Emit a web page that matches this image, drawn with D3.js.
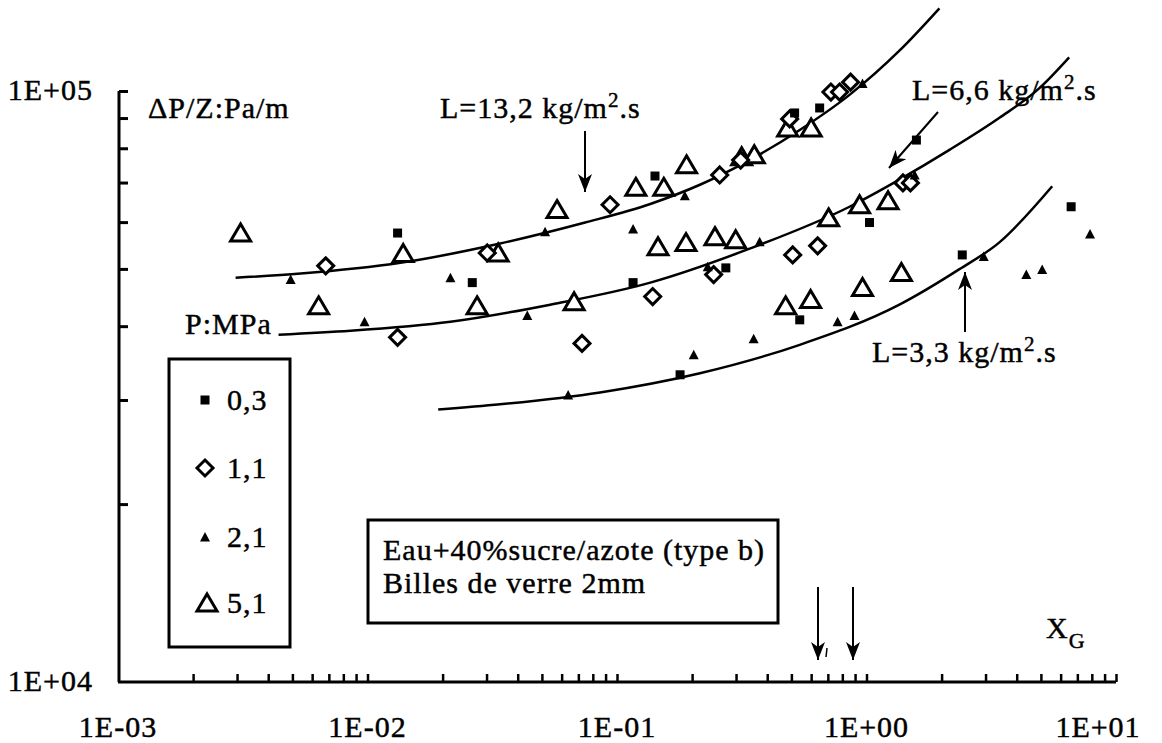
<!DOCTYPE html>
<html><head><meta charset="utf-8">
<script src="https://cdn.jsdelivr.net/npm/d3@7"></script>
<style>
body{margin:0;background:#fff}
svg{display:block}
text{font-family:"Times New Roman","Liberation Serif",Times,serif;fill:#000;stroke:#000;stroke-width:0.45px;letter-spacing:1px}
</style>
</head><body>
<svg id="chart" width="1162" height="743"></svg>
<script>
// ---------- data ----------
const xTickValues = [1e-3, 1e-2, 1e-1, 1, 10];
const xTickLabels = ["1E-03", "1E-02", "1E-01", "1E+00", "1E+01"];
const yTickValues = [1e4, 1e5];
const yTickLabels = ["1E+04", "1E+05"];
const legendLabels = ["0,3", "1,1", "2,1", "5,1"];

// P = 0,3 MPa (filled squares)
const p03 = [[0.0132,5.75e4],[0.0263,4.74e4],[0.116,4.74e4],[0.142,7.18e4],[0.179,3.31e4],
  [0.273,5.02e4],[0.54,4.1e4],[0.515,9.18e4],[0.649,9.36e4],[1.028,5.99e4],[1.585,8.26e4],
  [2.42,5.28e4],[6.61,6.37e4]];
// P = 1,1 MPa (open diamonds)
const p11 = [[0.0068,5.06e4],[0.0132,3.83e4],[0.0302,5.32e4],[0.0724,3.74e4],[0.0938,6.42e4],
  [0.139,4.49e4],[0.244,4.89e4],[0.258,7.21e4],[0.313,7.64e4],[0.506,5.28e4],[0.637,5.47e4],
  [0.492,8.97e4],[0.72,9.96e4],[0.78,9.96e4],[0.863,1.035e5],[1.4,6.99e4],[1.5,6.99e4]];
// P = 2,1 MPa (small filled triangles)
const p21 = [[0.00492,4.8e4],[0.00973,4.07e4],[0.0215,4.83e4],[0.0437,4.17e4],[0.0515,5.78e4],
  [0.0637,3.06e4],[0.116,5.84e4],[0.187,6.65e4],[0.203,3.58e4],[0.231,5.04e4],[0.353,3.81e4],
  [0.373,5.56e4],[0.766,4.07e4],[0.895,4.17e4],[1.56,7.21e4],[2.95,5.25e4],[4.37,4.89e4],
  [5.06,4.99e4],[7.87,5.73e4],[0.964,1.03e5]];
// P = 5,1 MPa (open triangles)
const p51 = [[0.0031,5.75e4],[0.00637,4.33e4],[0.0139,5.31e4],[0.0275,4.33e4],[0.0334,5.32e4],
  [0.0575,6.3e4],[0.0673,4.4e4],[0.119,6.87e4],[0.154,6.87e4],[0.146,5.45e4],[0.19,7.5e4],
  [0.189,5.54e4],[0.247,5.67e4],[0.316,7.74e4],[0.355,7.8e4],[0.299,5.6e4],[0.474,4.33e4],
  [0.597,4.44e4],[0.483,8.66e4],[0.6,8.66e4],[0.705,6.1e4],[0.938,6.42e4],[0.964,4.65e4],
  [1.22,6.52e4],[1.38,4.93e4]];

// fitted curves for each mass flux L
const curveL132 = [[0.00296,4.83e4],[0.0054,4.91e4],[0.01355,5.12e4],[0.034,5.52e4],[0.0745,5.99e4],
  [0.136,6.44e4],[0.215,6.94e4],[0.34,7.64e4],[0.54,8.59e4],[0.855,9.85e4],[1.355,1.17e5],[1.96,1.38e5]];
const curveL66 = [[0.0044,3.87e4],[0.00855,3.93e4],[0.0215,4.07e4],[0.054,4.35e4],[0.136,4.74e4],
  [0.34,5.41e4],[0.855,6.37e4],[1.355,7.08e4],[2.15,7.95e4],[3.4,9.0e4],[4.92,1.01e5],[6.49,1.14e5]];
const curveL33 = [[0.0192,2.89e4],[0.034,2.95e4],[0.0855,3.09e4],[0.215,3.33e4],[0.54,3.72e4],
  [1.355,4.35e4],[2.35,4.99e4],[3.4,5.54e4],[5.55,6.9e4]];

// ---------- layout ----------
const svg = d3.select("#chart");
svg.append("rect").attr("width",1162).attr("height",743).attr("fill","#fff");
const x = d3.scaleLog().domain([1e-3, 10]).range([118, 1116]);
const y = d3.scaleLog().domain([1e4, 1e5]).range([682, 91]);
const FS = 30;

// axes
const minorX = [];
for (let e = -3; e < 1; e++) for (let k = 1; k <= 9; k++) minorX.push(k * Math.pow(10, e));
minorX.push(10);
const minorY = [];
for (let k = 1; k <= 10; k++) minorY.push(k * 1e4);

const gx = svg.append("g").attr("transform", "translate(0,682)")
  .call(d3.axisBottom(x).tickValues(minorX.slice(1)).tickSize(-8).tickFormat(""));
gx.select(".domain").attr("stroke-width", 3).attr("d", `M${x(1e-3)},0H${x(10)}`);
gx.selectAll(".tick line").attr("stroke-width", 2.5);

const gy = svg.append("g").attr("transform", "translate(119,0)")
  .call(d3.axisLeft(y).tickValues(minorY.slice(1)).tickSize(-9).tickFormat(""));
gy.select(".domain").attr("stroke-width", 3).attr("d", `M0,${y(1e5)}V${y(1e4)}`);
gy.selectAll(".tick line").attr("stroke-width", 3);

// tick labels
svg.append("g").selectAll("text").data(xTickValues).join("text")
  .attr("x", (d, i) => i === 4 ? x(d) - 18 : x(d))
  .attr("y", 737).attr("text-anchor", "middle").attr("font-size", FS)
  .text((d, i) => xTickLabels[i]);
svg.append("g").selectAll("text").data(yTickValues).join("text")
  .attr("x", 93).attr("y", d => y(d) + 9).attr("text-anchor", "end").attr("font-size", FS)
  .text((d, i) => yTickLabels[i]);

// curves
const line = d3.line().x(d => x(d[0])).y(d => y(d[1])).curve(d3.curveMonotoneX);
[curveL132, curveL66, curveL33].forEach(c => {
  svg.append("path").attr("d", line(c)).attr("fill", "none").attr("stroke", "#000").attr("stroke-width", 2.5);
});

// marker shapes
const shapes = {
  square: () => `M-4.5,-4.5h9v9h-9z`,
  diamond: () => `M0,-8L8,0L0,8L-8,0Z`,
  smallTri: () => `M0,-5L5,4.5L-5,4.5Z`,
  openTri: () => `M0,-9L10,8L-10,8Z`
};
const styles = {
  square: {fill: "#000", stroke: "none", sw: 0},
  diamond: {fill: "#fff", stroke: "#000", sw: 3},
  smallTri: {fill: "#000", stroke: "none", sw: 0},
  openTri: {fill: "#fff", stroke: "#000", sw: 3}
};
function drawMarkers(data, kind) {
  svg.append("g").selectAll("path").data(data).join("path")
    .attr("transform", d => `translate(${x(d[0])},${y(d[1])})`)
    .attr("d", shapes[kind]())
    .attr("fill", styles[kind].fill).attr("stroke", styles[kind].stroke)
    .attr("stroke-width", styles[kind].sw).attr("stroke-linejoin", "miter");
}
drawMarkers(p51, "openTri");
drawMarkers(p11, "diamond");
drawMarkers(p03, "square");
drawMarkers(p21, "smallTri");

// axis titles
svg.append("text").attr("x", 148).attr("y", 118).attr("font-size", FS).text("ΔP/Z:Pa/m");
const xg = svg.append("text").attr("x", 1046).attr("y", 638).attr("font-size", FS);
xg.append("tspan").text("X");
xg.append("tspan").attr("dy", 10).attr("font-size", 22).text("G");

// legend
svg.append("text").attr("x", 185).attr("y", 334).attr("font-size", FS).text("P:MPa");
svg.append("rect").attr("x", 169).attr("y", 359).attr("width", 121).attr("height", 288)
  .attr("fill", "none").attr("stroke", "#000").attr("stroke-width", 3);
const legendKinds = ["square", "diamond", "smallTri", "openTri"];
const legendY = [400, 468, 537, 603];
legendLabels.forEach((lab, i) => {
  svg.append("path").attr("transform", `translate(${i === 3 ? 207 : 205},${legendY[i]})`)
    .attr("d", shapes[legendKinds[i]]())
    .attr("fill", styles[legendKinds[i]].fill).attr("stroke", styles[legendKinds[i]].stroke)
    .attr("stroke-width", styles[legendKinds[i]].sw);
  svg.append("text").attr("x", 227).attr("y", legendY[i] + 10).attr("font-size", FS).text(lab);
});

// info box
svg.append("rect").attr("x", 368).attr("y", 520).attr("width", 410).attr("height", 103)
  .attr("fill", "none").attr("stroke", "#000").attr("stroke-width", 3);
svg.append("text").attr("x", 383).attr("y", 560).attr("font-size", FS).text("Eau+40%sucre/azote (type b)");
svg.append("text").attr("x", 383).attr("y", 593).attr("font-size", FS).text("Billes de verre 2mm");

// L annotations
function lLabel(xp, yp, val) {
  const t = svg.append("text").attr("x", xp).attr("y", yp).attr("font-size", FS);
  t.append("tspan").text(`L=${val} kg/m`);
  t.append("tspan").attr("dy", -11).attr("font-size", 21).text("2");
  t.append("tspan").attr("dy", 11).text(".s");
}
lLabel(440, 118, "13,2");
lLabel(912, 100, "6,6");
lLabel(872, 362, "3,3");

// arrows
const defs = svg.append("defs");
defs.append("marker").attr("id", "ah").attr("markerUnits", "userSpaceOnUse")
  .attr("markerWidth", 20).attr("markerHeight", 14).attr("refX", 18).attr("refY", 7)
  .attr("orient", "auto")
  .append("path").attr("d", "M0,0L18,7L0,14L5,7Z").attr("fill", "#000");
function arrow(x1, y1, x2, y2) {
  svg.append("line").attr("x1", x1).attr("y1", y1).attr("x2", x2).attr("y2", y2)
    .attr("stroke", "#000").attr("stroke-width", 2).attr("marker-end", "url(#ah)");
}
arrow(585, 131, 585, 192);
arrow(938, 112, 889, 168);
arrow(965, 332, 965, 272);
arrow(818, 587, 818, 660);
arrow(853, 587, 853, 660);
svg.append("line").attr("x1", 827).attr("y1", 648).attr("x2", 826).attr("y2", 657)
  .attr("stroke", "#000").attr("stroke-width", 1.5);
</script>
</body></html>
